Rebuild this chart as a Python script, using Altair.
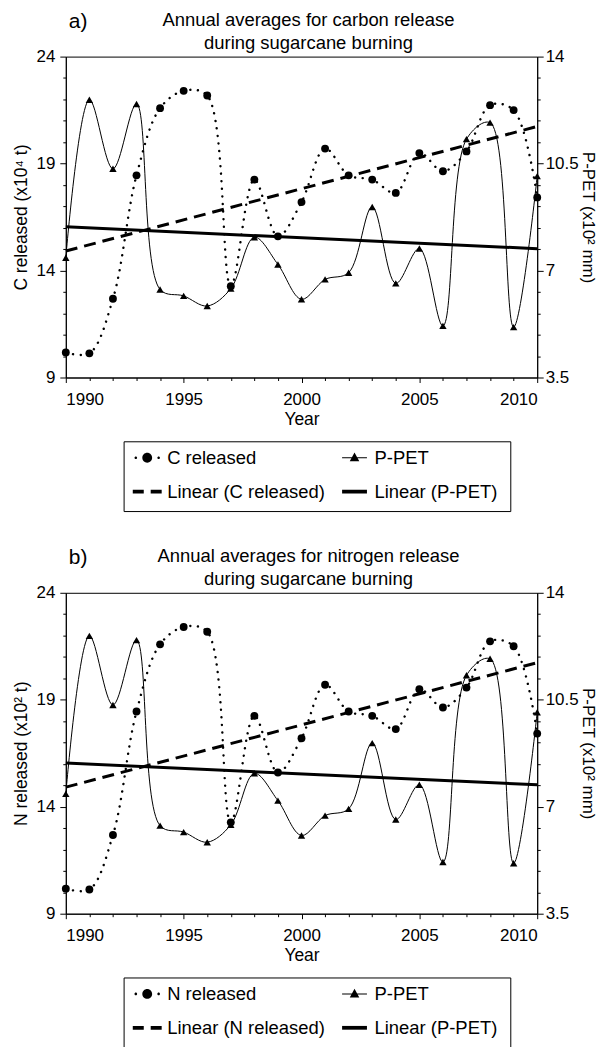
import altair as alt
import pandas as pd

FONT = "Liberation Sans"

# ---------------- data ----------------
years = [1990, 1991, 1992, 1993, 1994, 1995, 1996, 1997, 1998, 1999, 2000,
         2001, 2002, 2003, 2004, 2005, 2006, 2007, 2008, 2009, 2010]
c_released = [10.17, 10.13, 12.68, 18.45, 21.59, 22.40, 22.18, 13.27, 18.25, 15.60, 17.20,
              19.70, 18.45, 18.25, 17.63, 19.49, 18.64, 19.57, 21.73, 21.50, 17.42]
n_released = [10.17, 10.13, 12.68, 18.45, 21.59, 22.40, 22.18, 13.27, 18.25, 15.60, 17.20,
              19.70, 18.45, 18.25, 17.63, 19.49, 18.64, 19.57, 21.73, 21.50, 17.42]
p_pet = [7.42, 12.59, 10.33, 12.45, 6.38, 6.17, 5.84, 6.41, 8.09, 7.20, 6.06,
         6.71, 6.93, 9.08, 6.58, 7.72, 5.19, 11.30, 11.84, 5.15, 10.09]

x_major = [1990, 1995, 2000, 2005, 2010]
left_ticks = [9, 10, 11, 12, 13, 14, 15, 16, 17, 18, 19, 20, 21, 22, 23, 24]
left_major = [9, 14, 19, 24]
right_ticks = [3.5, 4.2, 4.9, 5.6, 6.3, 7, 7.7, 8.4, 9.1, 9.8, 10.5, 11.2, 11.9, 12.6, 13.3, 14]
right_major = [3.5, 7, 10.5, 14]

legend_a = ["C released", "P-PET", "Linear (C released)", "Linear (P-PET)"]
legend_b = ["N released", "P-PET", "Linear (N released)", "Linear (P-PET)"]
legend_col = [0, 1, 0, 1]
legend_row = [0, 0, 1, 1]

# legend symbol glyphs (custom SVG paths, unit box [-1, 1])
SYM_DOTTED_CIRCLE = ("M0.34,0A0.34,0.34 0 1,1 -0.34,0A0.34,0.34 0 1,1 0.34,0Z "
                     "M-0.7,0A0.09,0.09 0 1,1 -0.88,0A0.09,0.09 0 1,1 -0.7,0Z "
                     "M0.88,0A0.09,0.09 0 1,1 0.7,0A0.09,0.09 0 1,1 0.88,0Z")
SYM_LINE_TRI = "M-0.86,-0.035H0.86V0.035H-0.86Z M0,-0.36L0.33,0.24H-0.33Z"
SYM_DASH = "M-1,-0.13H-0.24V0.13H-1Z M0.24,-0.13H1V0.13H0.24Z"
SYM_THICK = "M-0.86,-0.13H0.86V0.13H-0.86Z"
legend_syms = [SYM_DOTTED_CIRCLE, SYM_LINE_TRI, SYM_DASH, SYM_THICK]


def cond(values, major, minor):
    return {"condition": {"test": "indexof(%s, datum.value) >= 0" % list(values), "value": major},
            "value": minor}


def panel(values, tag, title_lines, left_title):
    df = pd.DataFrame({"year": years, "rel": values, "ppet": p_pet})
    base = alt.Chart(df)

    xenc = alt.X("year:Q",
                 scale=alt.Scale(domain=[1990, 2010], nice=False, zero=False),
                 axis=alt.Axis(values=years, format="d", title="Year",
                               labelExpr="indexof(%s, datum.value) >= 0 ? datum.label : ''" % x_major,
                               tickSize=cond(x_major, 5, 3), labelOverlap=False,
                               labelPadding=9, titlePadding=3))
    yl = alt.Y("rel:Q",
               scale=alt.Scale(domain=[9, 24], nice=False, zero=False),
               axis=alt.Axis(values=left_ticks, format="d", orient="left", title=left_title,
                             labelExpr="indexof(%s, datum.value) >= 0 ? datum.label : ''" % left_major,
                             tickSize=cond(left_major, 6, 3), labelOverlap=False,
                             labelPadding=5, titlePadding=6))
    yr = alt.Y("ppet:Q",
               scale=alt.Scale(domain=[3.5, 14], nice=False, zero=False),
               axis=alt.Axis(values=right_ticks, format="~g", orient="right", title="P-PET (x10² mm)",
                             labelExpr="indexof(%s, datum.value) >= 0 ? datum.label : ''" % right_major,
                             tickSize=cond(right_major, 6, 3), labelOverlap=False,
                             labelPadding=2, titlePadding=0, titleFontSize=17))

    rel_line = base.mark_line(interpolate="catmull-rom", color="black", strokeWidth=2.4,
                              strokeDash=[0.1, 7.5], strokeCap="round").encode(x=xenc, y=yl)
    rel_reg = base.transform_regression("year", "rel", method="linear", extent=[1990, 2010]).mark_line(
        color="black", strokeWidth=3, strokeDash=[12, 7]).encode(x=xenc, y=yl)
    rel_pts = base.mark_point(filled=True, shape="circle", size=62, color="black",
                              opacity=1).encode(x=xenc, y=yl)

    p_line = base.mark_line(interpolate="catmull-rom", color="black", strokeWidth=1).encode(x=xenc, y=yr)
    p_reg = base.transform_regression("year", "ppet", method="linear", extent=[1990, 2010]).mark_line(
        color="black", strokeWidth=3).encode(x=xenc, y=yr)
    p_pts = base.mark_point(filled=True, shape="triangle-up", size=55, color="black",
                            opacity=1).encode(x=xenc, y=yr)

    lbl = alt.Chart(pd.DataFrame({"tag": [tag]})).mark_text(
        align="left", baseline="middle", fontSize=21, font=FONT, color="black").encode(
        text="tag:N", x=alt.value(3), y=alt.value(-35))

    return alt.layer(
        alt.layer(rel_line, rel_reg, rel_pts),
        alt.layer(p_line, p_reg, p_pts),
        lbl,
    ).resolve_scale(y="independent").properties(
        width=473, height=322,
        title=alt.TitleParams(title_lines, fontSize=18.5, fontWeight="normal", font=FONT,
                              anchor="middle", frame="group", offset=-42, lineHeight=23,
                              dx=7, color="black"))


def legend(names):
    df = pd.DataFrame({"label": names, "col": legend_col, "row": legend_row, "sym": legend_syms})
    base = alt.Chart(df).properties(width=388, height=70)
    xx = alt.X("col:Q", scale=alt.Scale(domain=[0, 1], range=[23.7, 231.7]), axis=None)
    yy = alt.Y("row:Q", scale=alt.Scale(domain=[0, 1], range=[16.5, 50.5]), axis=None)
    sym = base.mark_point(filled=True, color="black", size=841, opacity=1).encode(
        x=xx, y=yy, shape=alt.Shape("sym:N", scale=None))
    txt = base.mark_text(align="left", baseline="middle", dx=20, fontSize=18.5, font=FONT,
                         color="black").encode(x=xx, y=yy, text="label:N")
    spacer = alt.Chart(pd.DataFrame({"s": [0]})).mark_point(opacity=0).properties(
        width=54, height=10, view=alt.ViewBackground(stroke="transparent"))
    return alt.hconcat(spacer, alt.layer(sym, txt), spacing=2)


pa = panel(c_released, "a)", ["Annual averages for carbon release", "during sugarcane burning"],
           "C released (x10⁴ t)")
pb = panel(n_released, "b)", ["Annual averages for nitrogen release", "during sugarcane burning"],
           "N released (x10² t)")

chart = alt.vconcat(
    alt.vconcat(pa, legend(legend_a), spacing=12),
    alt.vconcat(pb, legend(legend_b), spacing=12),
    spacing=34,
).properties(
    padding={"left": 3, "top": 0, "right": 0, "bottom": 0}
).configure_view(stroke="black", strokeWidth=1).configure_axis(
    labelFont=FONT, labelFontSize=17, labelColor="black",
    titleFont=FONT, titleFontSize=17.5, titleFontWeight="normal", titleColor="black",
    domainColor="black", tickColor="black", grid=False,
)

chart.save("out.html", embed_options={"renderer": "svg", "actions": False})
